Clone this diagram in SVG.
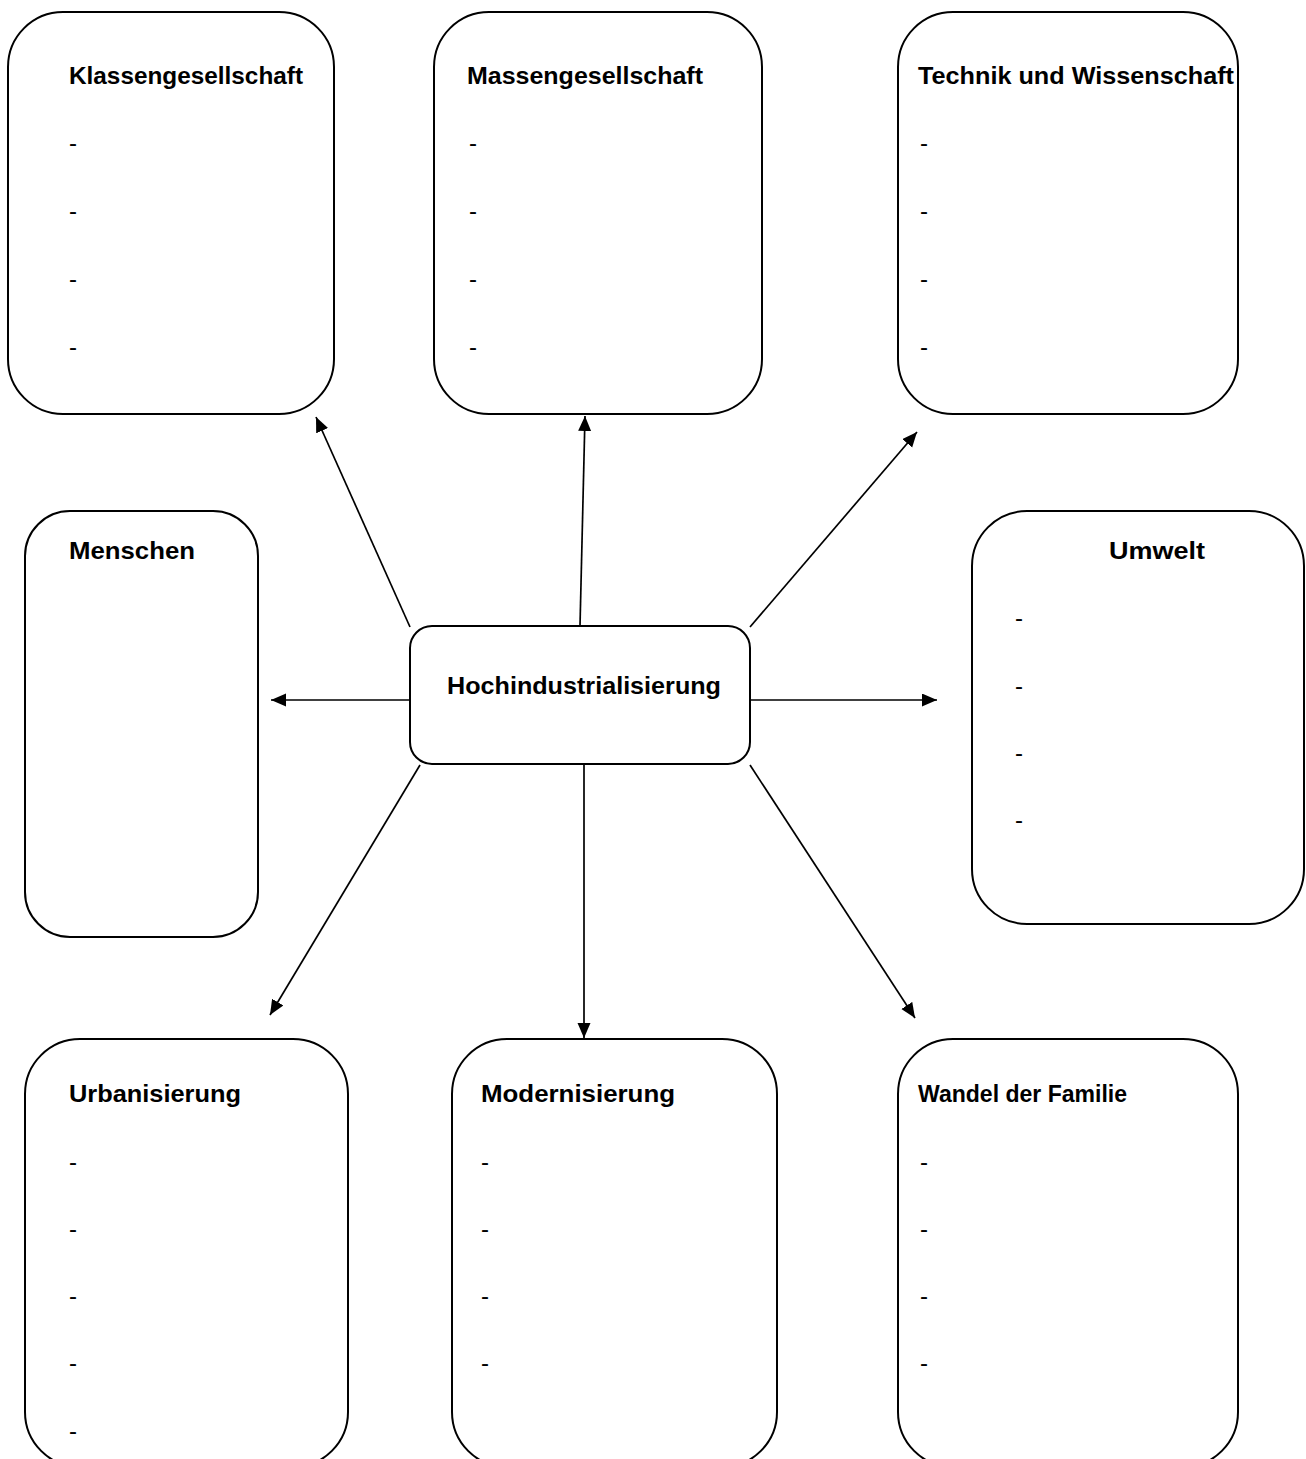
<svg xmlns="http://www.w3.org/2000/svg" width="1306" height="1459" viewBox="0 0 1306 1459">
<style>
.box{fill:#fff;stroke:#000;stroke-width:2}
.t{font-family:"Liberation Sans",Arial,sans-serif;font-weight:bold;font-size:24px;fill:#000}
.d{font-family:"Liberation Sans",Arial,sans-serif;font-size:24px;fill:#000}
.c{stroke:#000;stroke-width:1.7;fill:none;marker-end:url(#ah)}
</style>
<defs>
<marker id="ah" markerUnits="userSpaceOnUse" markerWidth="16" markerHeight="14" refX="15" refY="6.5" orient="auto">
<path d="M0,0 L15,6.5 L0,13 z" fill="#000"/>
</marker>
</defs>
<g id="connectors">
<line class="c" x1="410" y1="627" x2="316" y2="417"/>
<line class="c" x1="580" y1="626" x2="585" y2="416"/>
<line class="c" x1="750" y1="627" x2="917" y2="432"/>
<line class="c" x1="410" y1="700" x2="271" y2="700"/>
<line class="c" x1="750" y1="700" x2="937" y2="700"/>
<line class="c" x1="420" y1="765" x2="270" y2="1015"/>
<line class="c" x1="584" y1="764" x2="584" y2="1038"/>
<line class="c" x1="750" y1="765" x2="915" y2="1018"/>
</g>
<g id="klassengesellschaft">
<rect class="box" x="8" y="12" width="326" height="402" rx="55" ry="55"/>
<text class="t" x="69" y="84" textLength="234" lengthAdjust="spacingAndGlyphs">Klassengesellschaft</text>
<text class="d" x="69" y="151">-</text>
<text class="d" x="69" y="219">-</text>
<text class="d" x="69" y="287">-</text>
<text class="d" x="69" y="355">-</text>
</g>
<g id="massengesellschaft">
<rect class="box" x="434" y="12" width="328" height="402" rx="55" ry="55"/>
<text class="t" x="467" y="84" textLength="236" lengthAdjust="spacingAndGlyphs">Massengesellschaft</text>
<text class="d" x="469" y="151">-</text>
<text class="d" x="469" y="219">-</text>
<text class="d" x="469" y="287">-</text>
<text class="d" x="469" y="355">-</text>
</g>
<g id="technik">
<rect class="box" x="898" y="12" width="340" height="402" rx="55" ry="55"/>
<text class="t" x="918" y="84" textLength="316" lengthAdjust="spacingAndGlyphs">Technik und Wissenschaft</text>
<text class="d" x="920" y="151">-</text>
<text class="d" x="920" y="219">-</text>
<text class="d" x="920" y="287">-</text>
<text class="d" x="920" y="355">-</text>
</g>
<g id="menschen">
<rect class="box" x="25" y="511" width="233" height="426" rx="45" ry="45"/>
<text class="t" x="69" y="559" textLength="126" lengthAdjust="spacingAndGlyphs">Menschen</text>
</g>
<g id="umwelt">
<rect class="box" x="972" y="511" width="332" height="413" rx="55" ry="55"/>
<text class="t" x="1109" y="559" textLength="96" lengthAdjust="spacingAndGlyphs">Umwelt</text>
<text class="d" x="1015" y="626">-</text>
<text class="d" x="1015" y="694">-</text>
<text class="d" x="1015" y="761">-</text>
<text class="d" x="1015" y="828">-</text>
</g>
<g id="hochindustrialisierung">
<rect class="box" x="410" y="626" width="340" height="138" rx="22" ry="22"/>
<text class="t" x="447" y="694" textLength="274" lengthAdjust="spacingAndGlyphs">Hochindustrialisierung</text>
</g>
<g id="urbanisierung">
<rect class="box" x="25" y="1039" width="323" height="428" rx="55" ry="55"/>
<text class="t" x="69" y="1102" textLength="172" lengthAdjust="spacingAndGlyphs">Urbanisierung</text>
<text class="d" x="69" y="1170">-</text>
<text class="d" x="69" y="1237">-</text>
<text class="d" x="69" y="1304">-</text>
<text class="d" x="69" y="1371">-</text>
<text class="d" x="69" y="1439">-</text>
</g>
<g id="modernisierung">
<rect class="box" x="452" y="1039" width="325" height="428" rx="55" ry="55"/>
<text class="t" x="481" y="1102" textLength="194" lengthAdjust="spacingAndGlyphs">Modernisierung</text>
<text class="d" x="481" y="1170">-</text>
<text class="d" x="481" y="1237">-</text>
<text class="d" x="481" y="1304">-</text>
<text class="d" x="481" y="1371">-</text>
</g>
<g id="wandel">
<rect class="box" x="898" y="1039" width="340" height="428" rx="55" ry="55"/>
<text class="t" x="918" y="1102" textLength="209" lengthAdjust="spacingAndGlyphs">Wandel der Familie</text>
<text class="d" x="920" y="1170">-</text>
<text class="d" x="920" y="1237">-</text>
<text class="d" x="920" y="1304">-</text>
<text class="d" x="920" y="1371">-</text>
</g>
</svg>
